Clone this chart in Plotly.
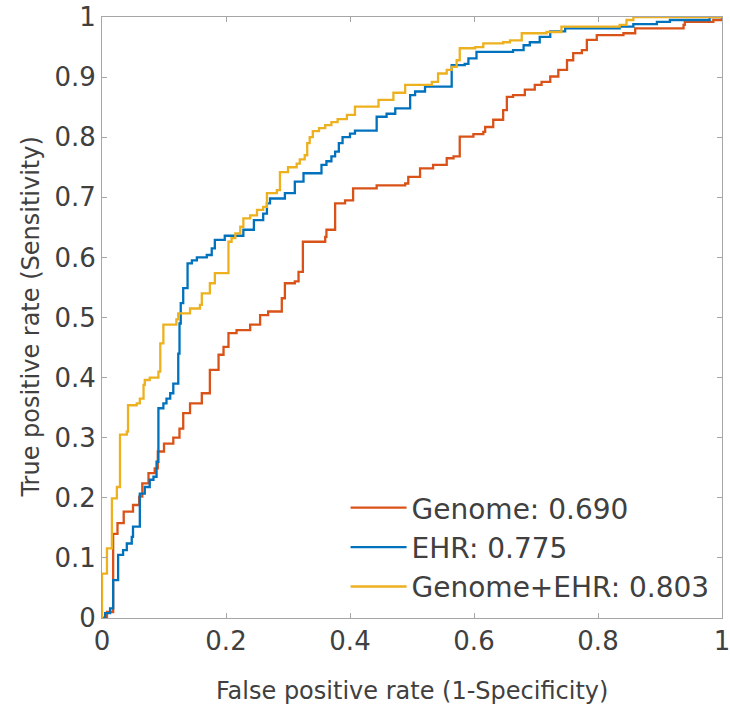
import plotly.graph_objects as go

# ROC step vertices (fpr, tpr): at each fpr the curve jumps up to tpr (hv steps)
genome_fpr = [0, 0.008, 0.018, 0.025, 0.035, 0.05, 0.06, 0.065, 0.075, 0.085, 0.09, 0.1, 0.115, 0.125,
              0.131, 0.142, 0.161, 0.174, 0.188, 0.196, 0.204, 0.217, 0.239, 0.255, 0.268, 0.29, 0.295,
              0.311, 0.317, 0.324, 0.36, 0.362, 0.376, 0.392, 0.405, 0.443, 0.489, 0.494, 0.513, 0.534,
              0.556, 0.567, 0.577, 0.599, 0.615, 0.618, 0.631, 0.647, 0.653, 0.663, 0.682, 0.698, 0.709,
              0.723, 0.736, 0.75, 0.76, 0.774, 0.782, 0.798, 0.841, 0.86, 0.938, 0.94, 0.986, 1.0]
genome_tpr = [0, 0.01, 0.14, 0.158, 0.177, 0.188, 0.202, 0.224, 0.241, 0.249, 0.277, 0.29, 0.3, 0.315,
              0.341, 0.357, 0.374, 0.413, 0.438, 0.451, 0.474, 0.479, 0.488, 0.504, 0.51, 0.532, 0.557,
              0.56, 0.576, 0.626, 0.634, 0.646, 0.69, 0.695, 0.715, 0.72, 0.723, 0.734, 0.748, 0.754,
              0.765, 0.768, 0.801, 0.805, 0.809, 0.817, 0.829, 0.845, 0.867, 0.87, 0.879, 0.887, 0.892,
              0.901, 0.912, 0.928, 0.94, 0.945, 0.962, 0.97, 0.973, 0.981, 0.987, 0.992, 0.995, 1.0]

ehr_fpr = [0, 0.005, 0.013, 0.018, 0.026, 0.034, 0.04, 0.048, 0.05, 0.061, 0.069, 0.077, 0.083, 0.088,
           0.091, 0.099, 0.104, 0.11, 0.115, 0.123, 0.125, 0.127, 0.131, 0.138, 0.145, 0.153, 0.169,
           0.177, 0.182, 0.198, 0.228, 0.245, 0.26, 0.266, 0.271, 0.295, 0.311, 0.325, 0.354, 0.362,
           0.37, 0.376, 0.382, 0.388, 0.4, 0.408, 0.443, 0.459, 0.473, 0.497, 0.505, 0.521, 0.564,
           0.585, 0.591, 0.604, 0.663, 0.68, 0.69, 0.706, 0.723, 0.747, 0.835, 0.857, 0.895, 0.916,
           0.98, 1.0]
ehr_tpr = [0, 0.008, 0.016, 0.063, 0.105, 0.113, 0.124, 0.135, 0.152, 0.207, 0.218, 0.23, 0.235, 0.26,
           0.349, 0.357, 0.365, 0.374, 0.39, 0.44, 0.49, 0.524, 0.549, 0.59, 0.595, 0.6, 0.604,
           0.615, 0.629, 0.636, 0.646, 0.662, 0.673, 0.69, 0.698, 0.707, 0.726, 0.74, 0.754, 0.76,
           0.768, 0.776, 0.79, 0.8, 0.806, 0.811, 0.834, 0.839, 0.848, 0.87, 0.876, 0.884, 0.92,
           0.922, 0.931, 0.942, 0.945, 0.953, 0.958, 0.967, 0.976, 0.981, 0.984, 0.988, 0.992, 0.995,
           1.0, 1.0]

both_fpr = [0, 0, 0.008, 0.016, 0.024, 0.029, 0.04, 0.042, 0.056, 0.061, 0.067, 0.069, 0.077, 0.091,
            0.094, 0.099, 0.12, 0.123, 0.142, 0.158, 0.161, 0.174, 0.182, 0.204, 0.209, 0.215, 0.223,
            0.228, 0.239, 0.25, 0.26, 0.266, 0.282, 0.287, 0.3, 0.314, 0.319, 0.327, 0.331, 0.335,
            0.34, 0.35, 0.36, 0.37, 0.38, 0.395, 0.408, 0.446, 0.47, 0.489, 0.532, 0.542, 0.556,
            0.564, 0.572, 0.577, 0.602, 0.615, 0.647, 0.658, 0.677, 0.717, 0.741, 0.835, 0.846,
            0.857, 1.0]
both_tpr = [0, 0.074, 0.116, 0.199, 0.218, 0.305, 0.31, 0.354, 0.357, 0.365, 0.388, 0.396, 0.4, 0.41,
            0.457, 0.488, 0.497, 0.507, 0.515, 0.521, 0.54, 0.557, 0.574, 0.626, 0.632, 0.64, 0.651,
            0.665, 0.67, 0.679, 0.684, 0.707, 0.712, 0.742, 0.75, 0.756, 0.763, 0.77, 0.79, 0.8,
            0.81, 0.815, 0.82, 0.825, 0.83, 0.837, 0.851, 0.862, 0.874, 0.887, 0.892, 0.906, 0.912,
            0.917, 0.928, 0.948, 0.95, 0.956, 0.958, 0.961, 0.973, 0.975, 0.984, 0.987, 0.995,
            1.0, 1.0]

series_names = ["Genome: 0.690", "EHR: 0.775", "Genome+EHR: 0.803"]
series_colors = ["#D95319", "#0072BD", "#EDB120"]

x_ticks = [0, 0.2, 0.4, 0.6, 0.8, 1]
x_tick_labels = ["0", "0.2", "0.4", "0.6", "0.8", "1"]
y_ticks = [0, 0.1, 0.2, 0.3, 0.4, 0.5, 0.6, 0.7, 0.8, 0.9, 1]
y_tick_labels = ["0", "0.1", "0.2", "0.3", "0.4", "0.5", "0.6", "0.7", "0.8", "0.9", "1"]

x_title = "False positive rate (1-Specificity)"
y_title = "True positive rate (Sensitivity)"

FONT = "DejaVu Sans"
TXT = "#404040"

fig = go.Figure()
for xs, ys, name, col in zip([genome_fpr, ehr_fpr, both_fpr], [genome_tpr, ehr_tpr, both_tpr],
                             series_names, series_colors):
    fig.add_trace(go.Scatter(x=xs, y=ys, mode="lines", name=name,
                             line=dict(color=col, width=2.3, shape="hv")))

axis_common = dict(range=[0, 1], showgrid=False, zeroline=False, showline=True,
                   linecolor="#a6a6a6", linewidth=1, mirror="ticks", ticks="inside",
                   ticklen=5, tickcolor="#a6a6a6", automargin=False,
                   ticklabeloverflow="allow",
                   tickfont=dict(family=FONT, size=26, color=TXT))

fig.update_xaxes(tickvals=x_ticks, ticktext=x_tick_labels, **axis_common)
fig.update_yaxes(tickvals=y_ticks, ticktext=y_tick_labels, **axis_common)

fig.add_annotation(text=x_title, xref="paper", yref="paper", x=0.5, y=-0.121,
                   xanchor="center", yanchor="middle", showarrow=False,
                   font=dict(family=FONT, size=24, color=TXT))
fig.add_annotation(text=y_title, xref="paper", yref="paper", x=-0.116, y=0.5,
                   xanchor="center", yanchor="middle", showarrow=False, textangle=-90,
                   font=dict(family=FONT, size=24, color=TXT))

fig.update_layout(
    width=730, height=708,
    margin=dict(l=102, r=8, t=17, b=90),
    plot_bgcolor="white", paper_bgcolor="white",
    font=dict(family=FONT, color=TXT),
    legend=dict(x=0.988, y=0.01, xanchor="right", yanchor="bottom",
                bgcolor="rgba(255,255,255,0)", borderwidth=0, itemwidth=56,
                font=dict(family=FONT, size=28, color=TXT), tracegroupgap=0),
)

fig.write_html("out.html")
